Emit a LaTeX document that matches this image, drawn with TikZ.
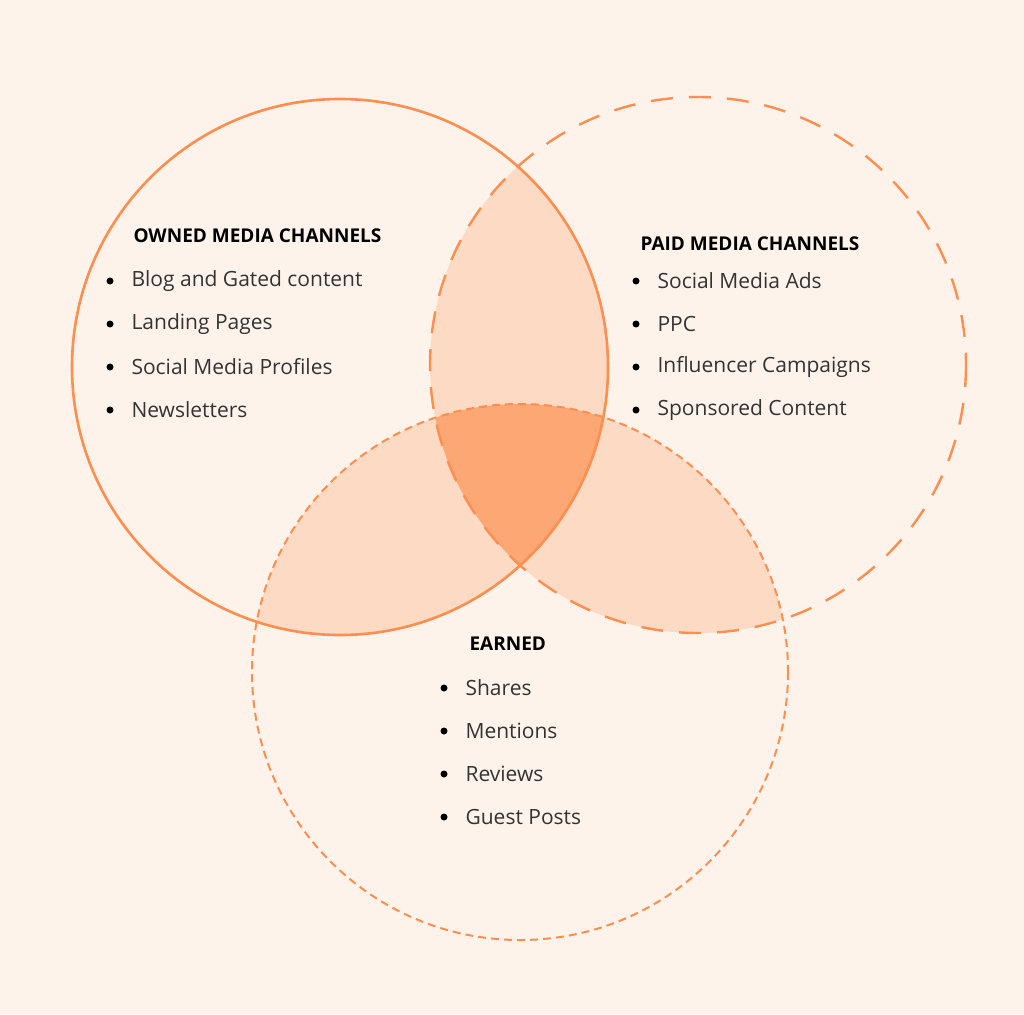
\documentclass[tikz,border=0pt]{standalone}
\usepackage{fontspec}
\setmainfont{Open Sans}
\definecolor{bg}{HTML}{FEF3EA}
\definecolor{ln}{HTML}{FF8E4F}
\definecolor{pair}{HTML}{FDDAC4}
\definecolor{trip}{HTML}{FDA774}
\begin{document}
\begin{tikzpicture}[x=1pt,y=-1pt,
  item/.style={anchor=west,font=\fontsize{21}{24}\selectfont\color{black!80}},
  head/.style={anchor=west,font=\fontsize{19}{22}\selectfont\bfseries},
  bul/.style={circle,fill=black,inner sep=0pt,minimum size=7pt}]
\fill[bg] (0,0) rectangle (1024,1014);
\useasboundingbox (0,0) rectangle (1024,1014);
\def\A{(340,367) circle (268)}
\def\B{(698,365) circle (268)}
\def\C{(520,672) circle (268)}
\begin{scope}\clip \A; \fill[pair] \B; \end{scope}
\begin{scope}\clip \A; \fill[pair] \C; \end{scope}
\begin{scope}\clip \B; \fill[pair] \C; \end{scope}
\begin{scope}\clip \A; \clip \B; \fill[trip] \C; \end{scope}
\draw[ln,line width=2.6pt] \A;
\draw[ln,line width=2.4pt,dash pattern=on 22pt off 16pt] \B;
\draw[ln,line width=2pt,dash pattern=on 8pt off 5pt] \C;
\node[head] (oh) at (130,236) {OWNED MEDIA CHANNELS};
\node[head] (ph) at (637,244) {PAID MEDIA CHANNELS};
\node[head] (eh) at (466,644) {EARNED};
\foreach \t [count=\i] in {Blog and Gated content,Landing Pages,Social Media Profiles,Newsletters}{
  \node[bul] (ob\i) at (110,{281+43*(\i-1)}) {};
  \node[item] (ot\i) at (128,{281+43*(\i-1)}) {\t};}
\foreach \t [count=\i] in {Social Media Ads,PPC,Influencer Campaigns,Sponsored Content}{
  \node[bul] (pb\i) at (636,{281+43*(\i-1)}) {};
  \node[item] (pt\i) at (654,{281+43*(\i-1)}) {\t};}
\foreach \t [count=\i] in {Shares,Mentions,Reviews,Guest Posts}{
  \node[bul] (eb\i) at (444,{688+43*(\i-1)}) {};
  \node[item] (et\i) at (462,{688+43*(\i-1)}) {\t};}
\end{tikzpicture}
\end{document}
